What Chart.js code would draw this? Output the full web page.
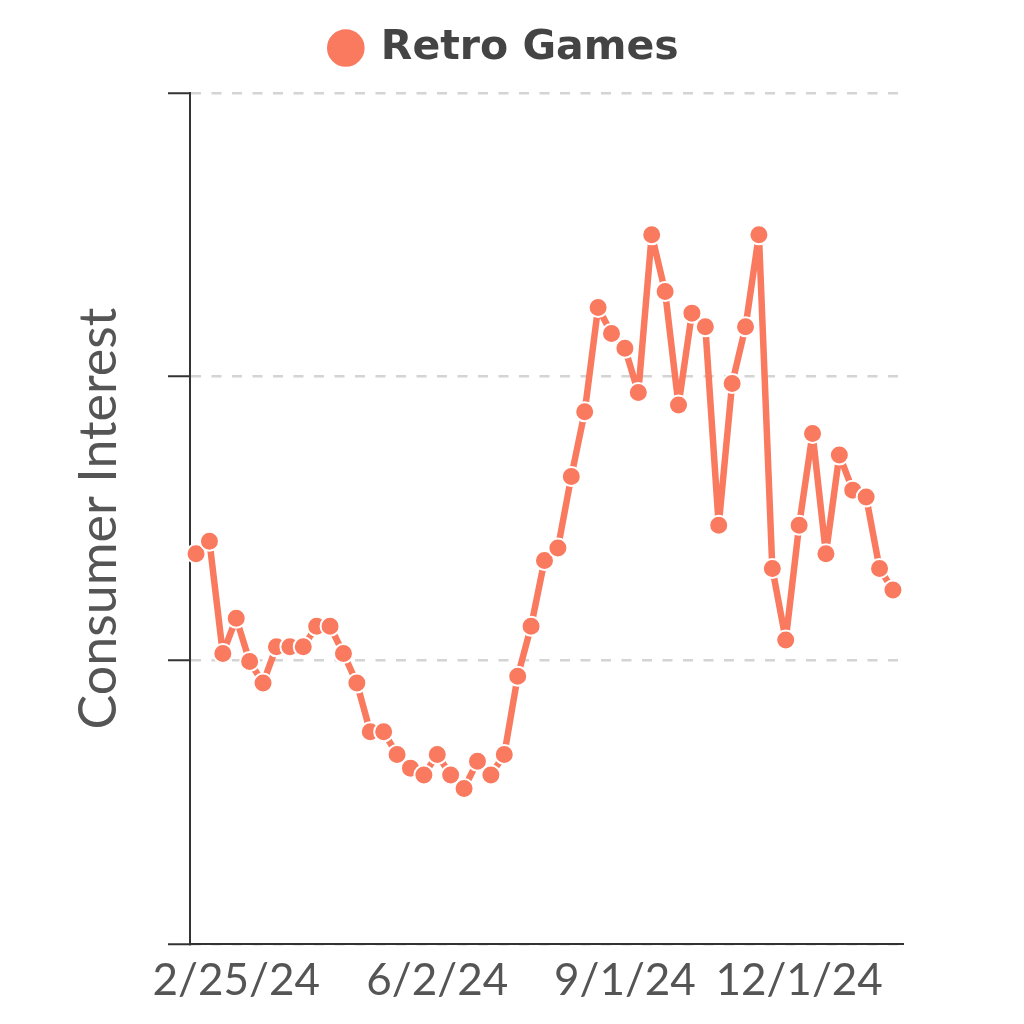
<!DOCTYPE html>
<html>
<head>
<meta charset="utf-8">
<script src="https://cdn.jsdelivr.net/npm/chart.js@4.4.1/dist/chart.umd.min.js"></script>
<style>
  html, body { margin: 0; padding: 0; background: #fff; }
  #wrap { width: 1024px; height: 1024px; }
</style>
</head>
<body>
<div id="wrap"><canvas id="graphCanvas" width="1024" height="1024"></canvas></div>
<script>
// weekly consumer interest
var seriesName = 'Retro Games';
var interest = [
    34.4, 35.5, 25.6, 28.7, 24.9, 23.0, 26.2, 26.2, 26.2, 28.0,
    28.0, 25.6, 23.0, 18.7, 18.7, 16.7, 15.5, 14.9, 16.7, 14.9,
    13.7, 16.1, 14.9, 16.7, 23.6, 28.0, 33.8, 34.9, 41.2, 46.9,
    56.1, 53.8, 52.5, 48.6, 62.5, 57.5, 47.5, 55.6, 54.4, 36.9,
    49.4, 54.4, 62.5, 33.1, 26.8, 36.9, 45.0, 34.4, 43.1, 40.0,
    39.4, 33.1, 31.2
];
var tickWeek = [3, 18, 32, 45];
var tickText = ['2/25/24', '6/2/24', '9/1/24', '12/1/24'];

var lineColor = '#F97A5F';
var axisFont = 'Lato, "Open Sans", sans-serif';

window.onload = function () {
    showGraph();
};

function showGraph() {
    var points = [];
    for (var i = 0; i < interest.length; i++) {
        points.push({ x: i, y: interest[i] });
    }

    var chartdata = {
        datasets: [
            {
                label: seriesName,
                data: points,
                xAxisID: 'x',
                borderColor: lineColor,
                backgroundColor: lineColor,
                borderWidth: 6.5,
                borderJoinStyle: 'round',
                borderCapStyle: 'round',
                pointRadius: 9.5,
                pointBorderWidth: 2,
                pointBorderColor: '#ffffff',
                pointBackgroundColor: lineColor,
                tension: 0,
                clip: false
            }
        ]
    };

    new Chart(document.getElementById('graphCanvas'), {
        type: 'line',
        data: chartdata,
        options: {
            responsive: false,
            devicePixelRatio: 1,
            animation: false,
            layout: { padding: { left: 107, right: 121, top: 17.5, bottom: 0 } },
            plugins: {
                tooltip: { enabled: false },
                legend: {
                    position: 'top',
                    labels: {
                        usePointStyle: true,
                        pointStyle: 'circle',
                        boxWidth: 29,
                        boxHeight: 28,
                        padding: 10,
                        color: '#444444',
                        font: { family: '"DejaVu Sans", sans-serif', size: 41, weight: 'bold' }
                    }
                }
            },
            scales: {
                // empty strip between legend and plot
                gap: {
                    type: 'linear',
                    position: 'top',
                    display: true,
                    ticks: { display: false },
                    grid: { display: false },
                    border: { display: false },
                    afterFit: function (axis) { axis.height = 14.5; }
                },
                x: {
                    type: 'linear',
                    position: 'bottom',
                    min: -0.45,
                    max: 52.75,
                    afterBuildTicks: function (axis) {
                        axis.ticks = tickWeek.map(function (v) { return { value: v }; });
                    },
                    afterFit: function (axis) { axis.height = 80; },
                    ticks: {
                        autoSkip: false,
                        maxRotation: 0,
                        padding: 2,
                        color: '#555555',
                        font: { family: axisFont, size: 44, weight: 'normal' },
                        callback: function (v) {
                            return tickText[tickWeek.indexOf(v)];
                        }
                    },
                    grid: { display: false },
                    border: { display: true, color: '#333333', width: 2 }
                },
                y: {
                    min: 0,
                    max: 75,
                    afterFit: function (axis) { axis.width = 83; },
                    ticks: { stepSize: 25, display: false },
                    grid: {
                        color: '#d4d4d4',
                        lineWidth: 2.5,
                        tickLength: 22,
                        tickColor: '#333333',
                        tickWidth: 2
                    },
                    border: { display: true, color: '#333333', width: 2, dash: [10, 10.5] },
                    title: {
                        display: true,
                        text: 'Consumer Interest',
                        color: '#555555',
                        padding: { top: -39, bottom: 0 },
                        font: { family: axisFont, size: 52, weight: 'normal' }
                    }
                }
            }
        }
    });
}
</script>
</body>
</html>
